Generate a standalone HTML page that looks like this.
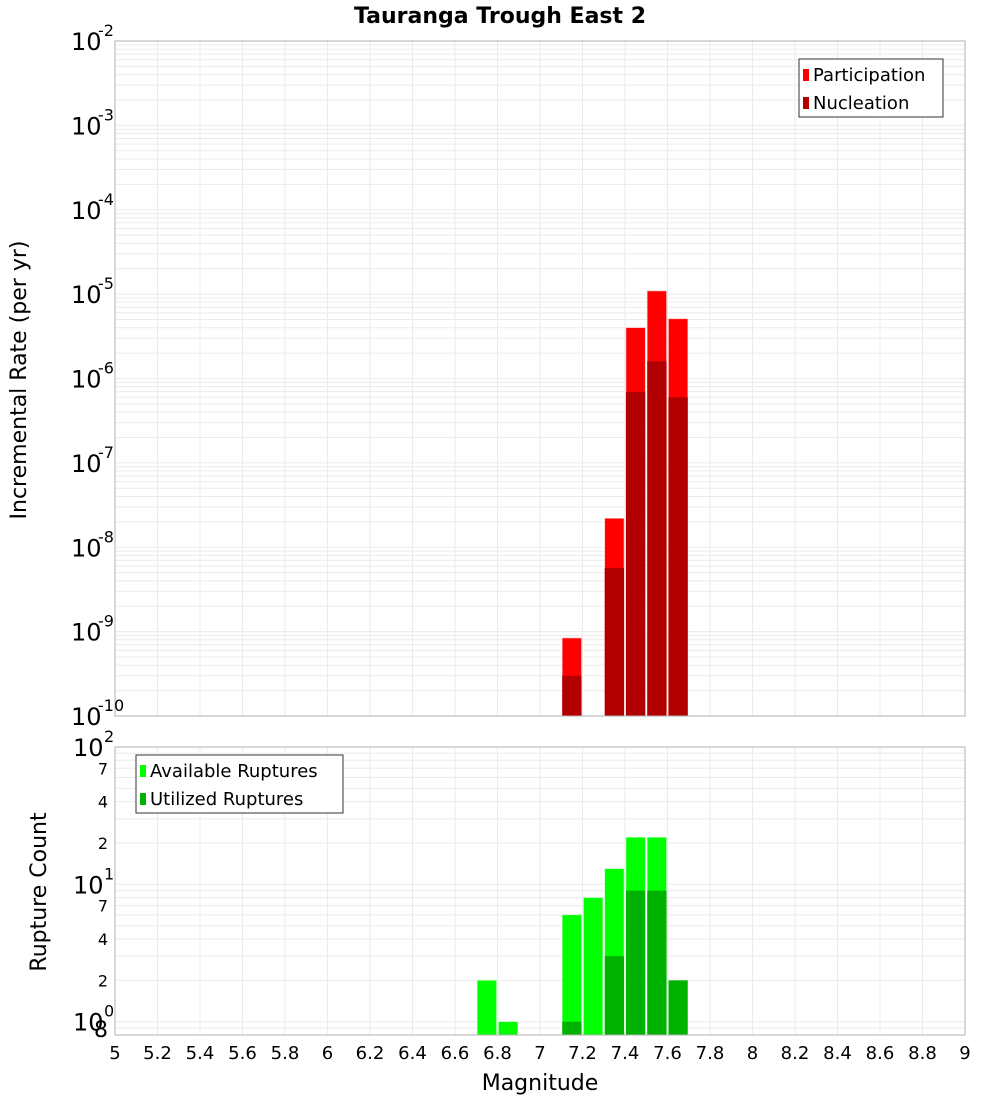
<!DOCTYPE html>
<html><head><meta charset="utf-8"><style>
body{margin:0;background:#fff}
svg{display:block;font-family:"DejaVu Sans","Liberation Sans",sans-serif}
</style></head><body>
<svg id="c" width="1000" height="1100" viewBox="0 0 1000 1100">
<text x="500" y="23" text-anchor="middle" font-size="22" font-weight="bold">Tauranga Trough East 2</text>
<text transform="translate(26,380) rotate(-90)" text-anchor="middle" font-size="22">Incremental Rate (per yr)</text>
<text transform="translate(46,892) rotate(-90)" text-anchor="middle" font-size="22">Rupture Count</text>
<text x="540" y="1090" text-anchor="middle" font-size="22">Magnitude</text>
<g id="g"></g>
</svg>
<script>
const binCenters=[7.15,7.35,7.45,7.55,7.65];
const participation=[8.4e-10,2.2e-8,4e-6,1.09e-5,5.1e-6];
const nucleation=[3e-10,5.7e-9,6.9e-7,1.6e-6,6e-7];
const countCenters=[6.75,6.85,7.15,7.25,7.35,7.45,7.55,7.65];
const available=[2,1,6,8,13,22,22,0];
const utilized=[0,0,1,0,3,9,9,2];
const xTicks=[5,5.2,5.4,5.6,5.8,6,6.2,6.4,6.6,6.8,7,7.2,7.4,7.6,7.8,8,8.2,8.4,8.6,8.8,9];

const NS="http://www.w3.org/2000/svg";
const g=document.getElementById('g');
function el(t,a,txt){const e=document.createElementNS(NS,t);for(const k in a)e.setAttribute(k,a[k]);if(txt!==undefined)e.textContent=txt;g.appendChild(e);return e;}
const L=115,R=965;
const X=v=>L+(v-5)/4*(R-L);
const T1=41,B1=716,T2=747,B2=1035;
const Y1=v=>T1+(-2-Math.log10(v))/8*(B1-T1);
const lo2=Math.log10(0.8);
const Y2=v=>B2-(Math.log10(v)-lo2)/(2-lo2)*(B2-T2);

// grids
for(const t of xTicks){
 for(const [a,b] of [[T1,B1],[T2,B2]]){
  const l=el('line',{x1:X(t),x2:X(t),y1:a,y2:b,stroke:'#ebebeb','stroke-width':1});
  
  
 }
}
for(let d=-10;d<-2;d++)for(let m=1;m<10;m++){
 const y=Y1(m*Math.pow(10,d));
 const l=el('line',{x1:L,x2:R,y1:y,y2:y,stroke:'#ebebeb','stroke-width':1});
 
 
}
for(let d=-1;d<2;d++)for(let m=1;m<10;m++){
 const v=m*Math.pow(10,d);if(v<0.8)continue;
 const y=Y2(v);
 const l=el('line',{x1:L,x2:R,y1:y,y2:y,stroke:'#ebebeb','stroke-width':1});
 
 
}
// bars top
const bw=X(5.1)-X(5);
binCenters.forEach((c,i)=>{
 const x=X(c)-bw/2+1;
 const p=el('rect',{x:x,y:Y1(participation[i]),width:bw-2,height:B1-Y1(participation[i]),fill:'#ff0000',stroke:'#ffb0b0','stroke-width':0.6});
 
 
 const n=el('rect',{x:x,y:Y1(nucleation[i]),width:bw-2,height:B1-Y1(nucleation[i]),fill:'#b20000'});
 
 
});
countCenters.forEach((c,i)=>{
 const x=X(c)-bw/2+1;
 if(available[i]>0){
 const p=el('rect',{x:x,y:Y2(available[i]),width:bw-2,height:B2-Y2(available[i]),fill:'#00ff00',stroke:'#b0ffb0','stroke-width':0.6});
 
 }
 if(utilized[i]>0){
 const n=el('rect',{x:x,y:Y2(utilized[i]),width:bw-2,height:B2-Y2(utilized[i]),fill:'#00b200'});
 
 }
});
// frames
for(const [a,b,nm] of [[T1,B1,'top-plot-frame'],[T2,B2,'bottom-plot-frame']]){
 const r=el('rect',{x:L,y:a,width:R-L,height:b-a,fill:'none',stroke:'#b0b0b0','stroke-width':1});
 
 
}
// top y labels
for(let d=-2;d>=-10;d--){
 const y=Y1(Math.pow(10,d));
 const t=el('text',{x:71,y:y+9,'font-size':24},'10');
 
 
 const s=el('text',{x:98,y:y-5,'font-size':16},String(d));
 
 
}
// bottom y labels
const bl=[[100,'10','2'],[7,'7'],[4,'4'],[2,'2'],[10,'10','1'],[7*0+7,'7'],[4,'4'],[2,'2'],[1,'10','0'],[0.8,'8']];
const bvals=[100,70,40,20,10,7,4,2,1,0.8];
bvals.forEach((v,i)=>{
 const y=Y2(v);const item=bl[i];
 if(item.length===3){
  const t=el('text',{x:73,y:y+9,'font-size':24},item[1]);
  
  
  const s=el('text',{x:104,y:y-5,'font-size':16},item[2]);
  
  
 }else{
  const big=v===0.8;
  const t=el('text',{x:108,y:y+(big?2:6),'font-size':big?22:16,'text-anchor':'end'},item[1]);
  
  
 }
});
// x labels
xTicks.forEach(t=>{
 const e=el('text',{x:X(t),y:1059,'font-size':18,'text-anchor':'middle'},String(t));
 
 
});
// legends
function legend(x,y,w,items,nm){
 const r=el('rect',{x:x,y:y,width:w,height:58,fill:'#fff',stroke:'#333','stroke-width':1});
 
 
 items.forEach(([c,lab],i)=>{
  const s=el('rect',{x:x+4,y:y+10+i*28,width:6,height:12,fill:c});
  
  
  const t=el('text',{x:x+14,y:y+22+i*28,'font-size':18},lab);
  
  
 });
}
legend(799,59,144,[['#ff0000','Participation'],['#b20000','Nucleation']],'top-legend');
legend(136,755,207,[['#00ff00','Available Ruptures'],['#00b200','Utilized Ruptures']],'bottom-legend');
</script>
</body></html>
